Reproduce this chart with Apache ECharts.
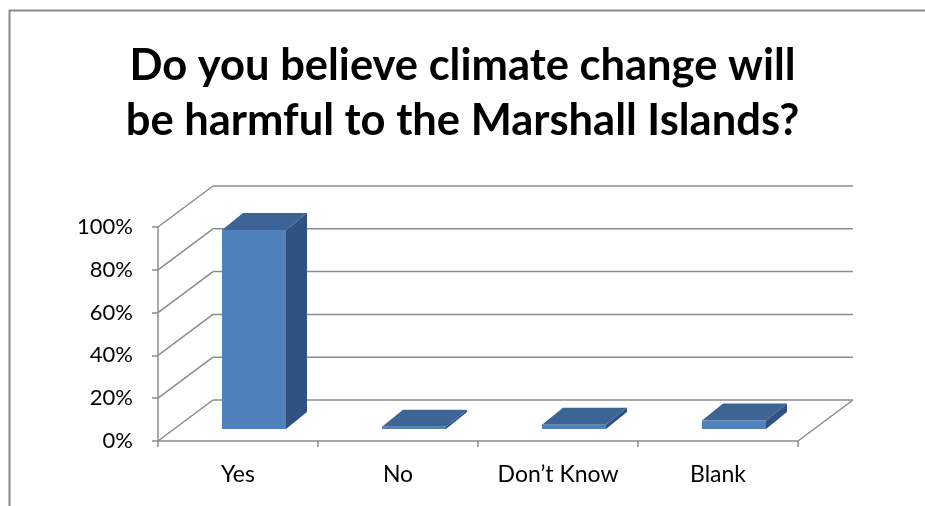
<!DOCTYPE html>
<html>
<head>
<meta charset="utf-8">
<script src="https://cdn.jsdelivr.net/npm/echarts@6/dist/echarts.min.js"></script>
<style>html,body{margin:0;padding:0;background:#fff}#c{width:925px;height:506px}</style>
</head>
<body>
<div id="c"></div>
<script>
const titleText = 'Do you believe climate change will\nbe harmful to the Marshall Islands?';
const categories = ['Yes', 'No', 'Don\u2019t Know', 'Blank'];
const values = [93, 1, 2, 4];
const yTicks = [0, 20, 40, 60, 80, 100];

const FONT = 'Lato';
const GRID = '#8c8c8c';
const WALL_DX = 55, WALL_DY = -41;
const BAR_OFF_X = 16, BAR_OFF_Y = -12;
const BAR_DX = 21, BAR_DY = -17;

const chart = echarts.init(document.getElementById('c'));
chart.setOption({
  backgroundColor: '#fff',
  animation: false,
  title: {
    text: titleText,
    left: 'center',
    top: 33,
    textStyle: { fontFamily: FONT, fontSize: 43.5, fontWeight: 'bold', color: '#000', lineHeight: 55 }
  },
  graphic: [{
    type: 'rect', left: 7, top: 8, shape: { width: 960, height: 560 },
    style: { fill: 'none', stroke: '#888', lineWidth: 2 }, silent: true
  }],
  grid: { left: 158, top: 227, width: 640, height: 214 },
  xAxis: {
    type: 'category',
    data: categories,
    axisLine: { lineStyle: { color: GRID, width: 1.5 } },
    axisTick: { show: true, length: 6, lineStyle: { color: GRID, width: 1.5 } },
    axisLabel: { fontFamily: FONT, fontSize: 23, color: '#000', margin: 22 }
  },
  yAxis: {
    type: 'value', min: 0, max: 100, interval: 20,
    axisLine: { show: true, lineStyle: { color: GRID, width: 1.5 } },
    axisTick: { show: true, length: 6, lineStyle: { color: GRID, width: 1.5 } },
    splitLine: { show: false },
    axisLabel: { formatter: '{value}%', fontFamily: FONT, fontSize: 22, color: '#000', margin: 25 }
  },
  series: [
    {
      type: 'custom', clip: false, silent: true, z: 1,
      data: yTicks.map(t => [0, t]),
      encode: { x: 0, y: 1 },
      renderItem: function (params, api) {
        const cs = params.coordSys;
        const left = cs.x, right = cs.x + cs.width;
        const y = api.coord([0, api.value(1)])[1];
        const style = { stroke: GRID, lineWidth: 1.5, fill: 'none' };
        const children = [
          { type: 'line', shape: { x1: left, y1: y, x2: left + WALL_DX, y2: y + WALL_DY }, style: style },
          { type: 'line', shape: { x1: left + WALL_DX, y1: y + WALL_DY, x2: right + WALL_DX, y2: y + WALL_DY }, style: style }
        ];
        if (api.value(1) === 0) {
          children.push({ type: 'line', shape: { x1: right, y1: y, x2: right + WALL_DX, y2: y + WALL_DY }, style: style });
        }
        return { type: 'group', children: children };
      }
    },
    {
      type: 'custom', clip: false, silent: true, z: 3,
      data: values.map((v, i) => [i, v]),
      encode: { x: 0, y: 1 },
      renderItem: function (params, api) {
        const i = api.value(0), v = api.value(1);
        const base = api.coord([i, 0]);
        const top = api.coord([i, v]);
        const bw = api.size([1, 0])[0] * 0.4;
        const x0 = base[0] - bw / 2 + BAR_OFF_X;
        const yb = base[1] + BAR_OFF_Y;
        const yt = top[1] + BAR_OFF_Y;
        return {
          type: 'group',
          children: [
            { type: 'polygon', shape: { points: [[x0 + bw, yt], [x0 + bw, yb], [x0 + bw + BAR_DX, yb + BAR_DY], [x0 + bw + BAR_DX, yt + BAR_DY]] },
              style: { fill: '#30527e' } },
            { type: 'polygon', shape: { points: [[x0, yt], [x0 + bw, yt], [x0 + bw + BAR_DX, yt + BAR_DY], [x0 + BAR_DX, yt + BAR_DY]] },
              style: { fill: '#3c6595' } },
            { type: 'rect', shape: { x: x0, y: yt, width: bw, height: yb - yt },
              style: { fill: '#4f81bd' } }
          ]
        };
      }
    }
  ]
});
</script>
</body>
</html>
